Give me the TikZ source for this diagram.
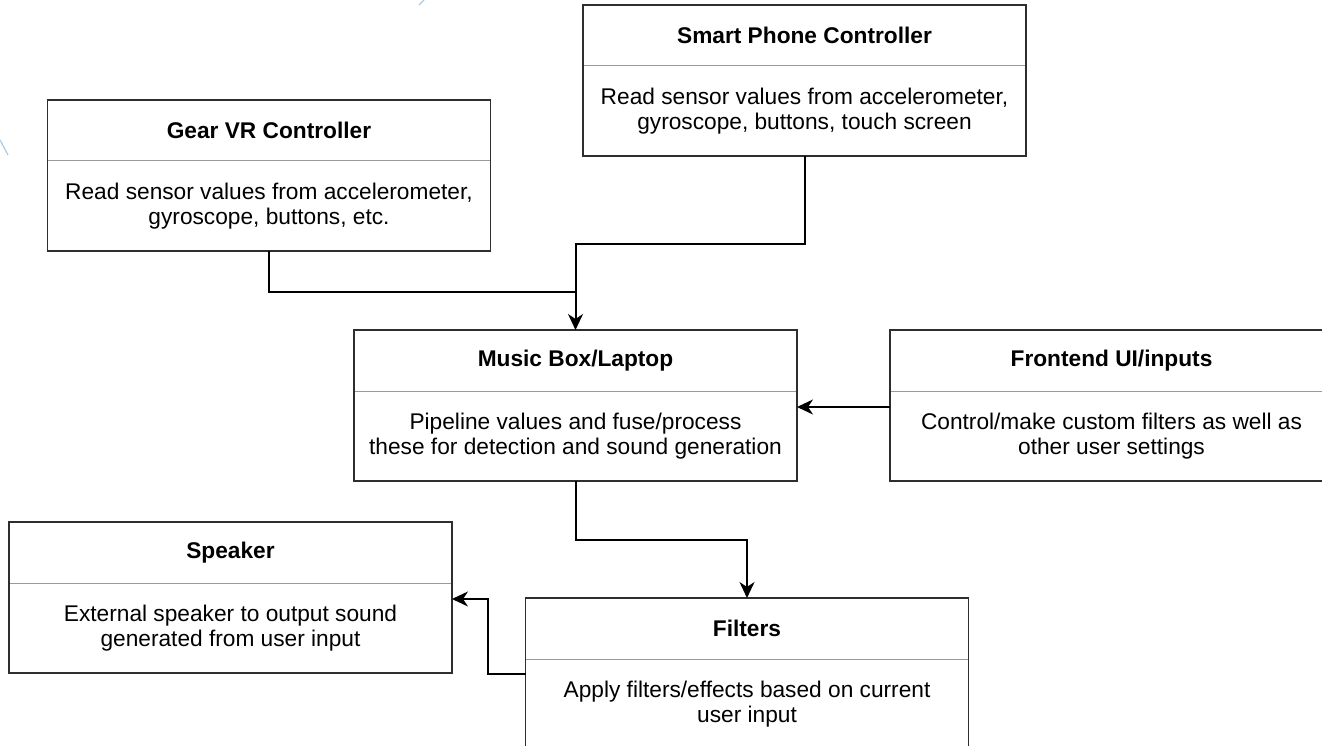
\documentclass[tikz,border=0pt]{standalone}
\usepackage{fontspec}
\setmainfont{Liberation Sans}
\usepackage{tikz}
\usetikzlibrary{arrows.meta, positioning}
\definecolor{edge}{HTML}{2E2E2E}
\definecolor{rule}{HTML}{9A9A9A}
\definecolor{stray}{HTML}{A8CBE3}

\begin{document}
\begin{tikzpicture}[x=1pt, y=-1pt,
head/.style={rectangle, minimum width=443pt, minimum height=61pt, inner sep=0pt, outer sep=0pt,
    font=\fontsize{22.7}{25.5}\selectfont\bfseries},
body/.style={rectangle, minimum width=443pt, minimum height=90pt, inner sep=0pt, outer sep=0pt,
    align=center, font=\fontsize{22.7}{25.5}\selectfont},
frame/.style={draw=edge, line width=1.8pt},
divider/.style={draw=rule, line width=1pt},
flow/.style={draw=black, line width=2pt, -{Stealth[length=16pt, width=15pt, inset=5pt]}},
link/.style={draw=black, line width=2pt}
]

\useasboundingbox (0,0) rectangle (1322,746);

% blocks
\node[head] (phone-t) at (804.5,35.5) {Smart Phone Controller};
\node[body, below=0pt of phone-t] (phone-b) {Read sensor values from accelerometer,\\gyroscope, buttons, touch screen};

\node[head] (gear-t) at (269,130.5) {Gear VR Controller};
\node[body, below=0pt of gear-t] (gear-b) {Read sensor values from accelerometer,\\gyroscope, buttons, etc.};

\node[head] (music-t) at (575.5,360.5) {Music Box/Laptop};
\node[body, below=0pt of music-t] (music-b) {Pipeline values and fuse/process\\these for detection and sound generation};

\node[head, right=93pt of music-t] (front-t) {Frontend UI/inputs};
\node[body, below=0pt of front-t] (front-b) {Control/make custom filters as well as\\other user settings};

\node[head] (speaker-t) at (230.5,552.5) {Speaker};
\node[body, below=0pt of speaker-t] (speaker-b) {External speaker to output sound\\generated from user input};

\node[head] (filters-t) at (747,628.5) {Filters};
\node[body, below=0pt of filters-t] (filters-b) {Apply filters/effects based on current\\user input};

\foreach \n in {phone, gear, music, front, speaker, filters} {
    \draw[divider] (\n-t.south west) -- (\n-t.south east);
    \draw[frame] (\n-t.north west) rectangle (\n-b.south east);
}

% connectors
\coordinate (merge) at ([yshift=38pt]music-t.north);
\draw[link] (gear-b.south) |- (merge);
\draw[flow] (phone-b.south) -- ++(0,88) -| (music-t.north);
\draw[flow] ([yshift=-16pt]front-b.north west) -- ([yshift=-16pt]music-b.north east);
\draw[flow] (music-b.south) -- ++(0,59) -| (filters-t.north);
\draw[flow] ([yshift=-15pt]filters-b.north west) -- ++(-38,0) |- ([yshift=-16pt]speaker-b.north east);

% stray marks
\draw[stray, line width=1.2pt] (0,140) -- (8,155);
\draw[stray, line width=1.2pt] (419,5) -- (424,0);

\end{tikzpicture}
\end{document}
